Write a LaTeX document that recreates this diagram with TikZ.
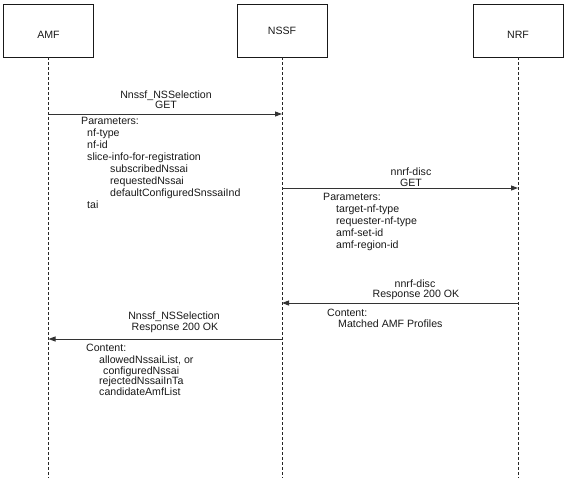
\documentclass[tikz,border=0pt]{standalone}
\usepackage{fontspec}
\setmainfont{Liberation Sans}
\usetikzlibrary{arrows.meta}
\begin{document}
\begin{tikzpicture}[x=1pt,y=-1pt,
  every node/.style={font=\fontsize{10.6}{12}\selectfont, text=black!90, inner sep=0pt},
  actor/.style={draw=black!90, line width=0.8pt, minimum width=90pt, minimum height=53pt},
  lifeline/.style={draw=black!85, line width=0.8pt, dash pattern=on 3pt off 2pt},
  msg/.style={draw=black!80, line width=0.9pt, -{Triangle[length=7pt,width=5pt]}},
  lbl/.style={anchor=base},
  txt/.style={anchor=base west}]
\useasboundingbox (0,0) rectangle (567,480);
% actors
\node[actor] (amf) at (48.5,30.5) {};
\node[actor] (nssf) at (282,30.5) {};
\node[actor] (nrf) at (518,30.5) {};
\node (amfl) at (48.5,35) {AMF};
\node (nssfl) at (282,31) {NSSF};
\node (nrfl) at (518,34.5) {NRF};
% lifeline ends
\coordinate (amfEnd) at (48.5,478);
\coordinate (nssfEnd) at (282,478);
\coordinate (nrfEnd) at (518,478);
\draw[lifeline] (amf.south) -- (amfEnd);
\draw[lifeline] (nssf.south) -- (nssfEnd);
\draw[lifeline] (nrf.south) -- (nrfEnd);
% message end points
\coordinate (m1s) at (48.5,114);  \coordinate (m1e) at (282,114);
\coordinate (m2s) at (282,188);   \coordinate (m2e) at (518,188);
\coordinate (m3s) at (518,303);   \coordinate (m3e) at (282,303);
\coordinate (m4s) at (282,339);   \coordinate (m4e) at (48.5,339);
\draw[msg] (m1s) -- (m1e);
\draw[msg] (m2s) -- (m2e);
\draw[msg] (m3s) -- (m3e);
\draw[msg] (m4s) -- (m4e);
% message labels
\node[lbl] (l1a) at (166,98.5) {Nnssf\_NSSelection};
\node[lbl] (l1b) at (166,108.5) {GET};
\node[lbl] (l2a) at (411,175.5) {nnrf-disc};
\node[lbl] (l2b) at (411,186) {GET};
\node[lbl] (l3a) at (415,287.5) {nnrf-disc};
\node[lbl] (l3b) at (416,297.5) {Response 200 OK};
\node[lbl] (l4a) at (174,319.5) {Nnssf\_NSSelection};
\node[lbl] (l4b) at (175,330.5) {Response 200 OK};
% parameter block 1
\foreach \px/\py/\t [count=\i] in {81/121/{Parameters:}, 87/133/{nf-type}, 87/145/{nf-id},
   87/157/{slice-info-for-registration}, 110/169/{subscribedNssai}, 110/181/{requestedNssai},
   110/193/{defaultConfiguredSnssaiInd}, 87/205/{tai}}
  \node[txt] (pa\i) at (\px,\py+3.5) {\t};
% parameter block 2
\foreach \px/\py/\t [count=\i] in {323/197/{Parameters:}, 336/209/{target-nf-type},
   336/221/{requester-nf-type}, 336/233/{amf-set-id}, 336/245/{amf-region-id}}
  \node[txt] (pb\i) at (\px,\py+3.5) {\t};
% content block 3
\foreach \px/\py/\t [count=\i] in {327/313/{Content:}, 338/323.5/{Matched AMF Profiles}}
  \node[txt] (pc\i) at (\px,\py+3.5) {\t};
% content block 4
\foreach \px/\py/\t [count=\i] in {86/348/{Content:}, 99/359.5/{allowedNssaiList, or},
   103/370.5/{configuredNssai}, 99/381/{rejectedNssaiInTa}, 99/391.5/{candidateAmfList}}
  \node[txt] (pd\i) at (\px,\py+3.5) {\t};
\end{tikzpicture}
\end{document}
